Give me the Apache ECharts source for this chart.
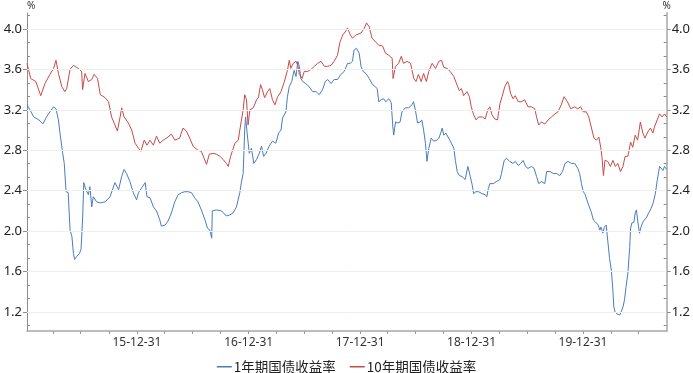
<!DOCTYPE html>
<html><head><meta charset="utf-8">
<script src="https://cdn.jsdelivr.net/npm/echarts@6/dist/echarts.min.js"></script>
<style>html,body{margin:0;padding:0;background:#fff}#c{width:693px;height:373px}</style>
</head><body><div id="c"></div>
<script>
const seriesNames = ['1年期国债收益率', '10年期国债收益率'];

const dates1y = [
'2015-01-05','2015-01-11','2015-01-27','2015-02-13','2015-02-26','2015-03-10','2015-03-21','2015-04-02','2015-04-10','2015-04-18',
'2015-04-23','2015-05-02','2015-05-07','2015-05-13','2015-05-20','2015-05-26','2015-06-01','2015-06-06','2015-06-10','2015-06-17',
'2015-06-26','2015-07-01','2015-07-06','2015-07-10','2015-07-17','2015-07-25','2015-07-30','2015-08-05','2015-08-10','2015-08-21',
'2015-09-02','2015-09-18','2015-10-04','2015-10-20','2015-11-01','2015-11-11','2015-11-19','2015-11-27','2015-12-08','2015-12-19',
'2015-12-30','2016-01-05','2016-01-16','2016-01-27','2016-02-02','2016-02-12','2016-02-23','2016-03-04','2016-03-15','2016-03-20',
'2016-04-01','2016-04-11','2016-04-22','2016-05-03','2016-05-14','2016-05-25','2016-06-05','2016-06-16','2016-06-27','2016-07-07',
'2016-07-18','2016-07-29','2016-08-10','2016-08-18','2016-08-26','2016-09-01','2016-09-03','2016-09-17','2016-10-03','2016-10-19',
'2016-10-30','2016-11-10','2016-11-21',
'2016-12-02','2016-12-07','2016-12-13','2016-12-18','2016-12-21','2016-12-26','2017-01-02','2017-01-09','2017-01-17','2017-01-26',
'2017-02-04','2017-02-11','2017-02-18','2017-02-26','2017-03-08','2017-03-19','2017-03-30','2017-04-08','2017-04-16','2017-04-21',
'2017-05-02','2017-05-07','2017-05-13','2017-05-21','2017-05-29','2017-06-04','2017-06-10','2017-06-15','2017-06-20','2017-06-26',
'2017-07-06','2017-07-17','2017-07-28','2017-08-09','2017-08-19','2017-08-30','2017-09-08','2017-09-16','2017-09-27','2017-10-07',
'2017-10-18','2017-10-29','2017-11-09','2017-11-14','2017-11-20','2017-11-29','2017-12-06','2017-12-11','2017-12-19','2017-12-28',
'2018-01-03','2018-01-10','2018-01-19','2018-01-30','2018-02-10','2018-02-18','2018-02-25','2018-03-02','2018-03-10','2018-03-18',
'2018-03-25','2018-04-04','2018-04-12','2018-04-17','2018-04-20','2018-04-26','2018-05-04','2018-05-11','2018-05-17','2018-05-28',
'2018-06-08','2018-06-19','2018-06-24','2018-06-30','2018-07-07','2018-07-16','2018-07-21','2018-07-27','2018-08-02','2018-08-07',
'2018-08-13','2018-08-21','2018-08-29','2018-09-09','2018-09-15',
'2018-09-21','2018-09-26','2018-10-01','2018-10-08','2018-10-17','2018-10-26','2018-11-03','2018-11-08','2018-11-14','2018-11-21',
'2018-11-30','2018-12-10','2018-12-19','2018-12-24','2018-12-27','2019-01-02','2019-01-07','2019-01-13','2019-01-23','2019-02-04',
'2019-02-14','2019-02-19','2019-02-24','2019-03-01','2019-03-12','2019-03-22','2019-04-03','2019-04-08','2019-04-17','2019-04-25',
'2019-05-05','2019-05-16','2019-05-23','2019-06-02','2019-06-10','2019-06-18','2019-06-26','2019-07-04','2019-07-15','2019-07-24',
'2019-08-01','2019-08-08','2019-08-17','2019-08-28','2019-09-03','2019-09-14','2019-09-25','2019-10-05','2019-10-16','2019-10-25',
'2019-11-02','2019-11-12','2019-11-23','2019-12-04','2019-12-14','2019-12-20','2019-12-26','2020-01-01',
'2020-01-06','2020-01-17','2020-01-27','2020-02-03','2020-02-10','2020-02-19','2020-02-24','2020-02-28','2020-03-05','2020-03-10',
'2020-03-16','2020-03-21','2020-03-27','2020-04-02','2020-04-07','2020-04-10','2020-04-14','2020-04-21','2020-04-29','2020-05-04',
'2020-05-10','2020-05-15','2020-05-20','2020-05-26','2020-06-01','2020-06-04','2020-06-08','2020-06-15','2020-06-19','2020-06-23',
'2020-06-27','2020-07-03','2020-07-08','2020-07-14','2020-07-19','2020-07-25','2020-08-02','2020-08-08','2020-08-16','2020-08-24',
'2020-08-30','2020-09-07','2020-09-12','2020-09-18','2020-09-23','2020-09-30'
];
const values1y = [
3.25,3.22,3.13,3.10,3.06,3.13,3.18,3.23,3.21,3.10,
2.97,2.77,2.67,2.39,2.38,2.01,1.95,1.78,1.72,1.75,
1.78,1.82,2.11,2.48,2.41,2.36,2.44,2.24,2.34,2.29,
2.28,2.29,2.34,2.48,2.41,2.54,2.61,2.57,2.49,2.38,
2.31,2.38,2.43,2.48,2.34,2.33,2.24,2.20,2.11,2.05,
2.06,2.10,2.18,2.29,2.36,2.38,2.39,2.39,2.38,2.33,
2.29,2.21,2.11,2.03,2.01,1.93,2.20,2.21,2.20,2.15,
2.16,2.18,2.24,
2.38,2.48,2.57,3.00,3.13,2.97,2.77,2.82,2.67,2.71,
2.77,2.84,2.74,2.77,2.84,2.89,2.87,2.97,3.00,3.12,
3.18,3.33,3.43,3.48,3.59,3.53,3.68,3.63,3.51,3.48,
3.46,3.43,3.38,3.38,3.35,3.40,3.48,3.50,3.46,3.50,
3.50,3.55,3.58,3.59,3.66,3.66,3.68,3.79,3.81,3.76,
3.63,3.58,3.56,3.51,3.45,3.43,3.41,3.28,3.30,3.31,
3.28,3.31,3.27,3.04,2.95,3.08,3.07,3.08,3.18,3.22,
3.22,3.25,3.28,3.20,3.07,3.08,3.10,3.00,2.87,2.69,
2.82,2.92,2.89,2.90,2.92,
2.97,3.02,2.95,2.97,2.92,2.87,2.82,2.70,2.59,2.55,
2.54,2.51,2.64,2.64,2.54,2.46,2.37,2.39,2.39,2.37,
2.36,2.34,2.42,2.47,2.47,2.49,2.51,2.57,2.70,2.72,
2.69,2.67,2.69,2.65,2.67,2.70,2.64,2.62,2.64,2.62,
2.54,2.47,2.49,2.47,2.59,2.59,2.57,2.57,2.55,2.59,
2.67,2.69,2.67,2.67,2.62,2.57,2.47,2.39,
2.37,2.27,2.19,2.11,2.09,2.06,2.01,2.04,1.98,2.04,
2.06,1.91,1.73,1.61,1.41,1.25,1.20,1.18,1.17,1.20,
1.25,1.32,1.45,1.58,1.84,2.03,2.08,2.09,2.18,2.21,
2.11,1.98,2.04,2.09,2.11,2.13,2.18,2.21,2.27,2.37,
2.50,2.64,2.64,2.60,2.64,2.61
];

const dates10y = [
'2015-01-05','2015-01-17','2015-02-03','2015-02-19','2015-02-25','2015-03-05','2015-03-21','2015-04-02','2015-04-10','2015-04-18',
'2015-04-29','2015-05-09','2015-05-15','2015-05-26','2015-06-06','2015-06-22','2015-07-03','2015-07-06','2015-07-14','2015-07-25',
'2015-08-05','2015-08-13','2015-08-24','2015-09-02','2015-09-18','2015-09-29','2015-10-09','2015-10-20','2015-10-28','2015-11-06',
'2015-11-11','2015-11-19','2015-12-03','2015-12-14','2015-12-25','2016-01-05','2016-01-13','2016-01-24','2016-02-02','2016-02-12',
'2016-02-23','2016-03-04','2016-03-15','2016-03-26','2016-04-06','2016-04-22','2016-05-03','2016-05-19','2016-05-30','2016-06-10',
'2016-06-21','2016-07-02','2016-07-18','2016-07-29','2016-08-07','2016-08-15','2016-08-24','2016-09-06','2016-09-17','2016-09-28',
'2016-10-08','2016-10-19','2016-10-25','2016-11-02','2016-11-16','2016-11-27',
'2016-12-02','2016-12-13','2016-12-18','2016-12-24','2016-12-29','2017-01-04','2017-01-15','2017-01-26','2017-02-01','2017-02-08',
'2017-02-14','2017-02-21','2017-03-03','2017-03-10','2017-03-19','2017-03-27','2017-04-05','2017-04-16','2017-04-27','2017-05-07',
'2017-05-13','2017-05-18','2017-05-26','2017-06-04','2017-06-10','2017-06-15','2017-06-24','2017-07-01','2017-07-12','2017-07-23',
'2017-08-03','2017-08-14','2017-08-25','2017-09-05','2017-09-16','2017-09-27','2017-10-07','2017-10-18','2017-10-26','2017-11-04',
'2017-11-12','2017-11-20','2017-11-29','2017-12-06','2017-12-17','2018-01-03','2018-01-14','2018-01-21','2018-01-30','2018-02-08',
'2018-02-20','2018-03-02','2018-03-15','2018-03-24','2018-04-04','2018-04-15','2018-04-18','2018-04-26','2018-05-06','2018-05-15',
'2018-05-22','2018-06-03','2018-06-14','2018-06-25','2018-07-02','2018-07-10','2018-07-19','2018-07-27','2018-08-05','2018-08-13',
'2018-08-24','2018-09-04','2018-09-15',
'2018-09-24','2018-10-01','2018-10-12','2018-10-22','2018-11-03','2018-11-14','2018-11-21','2018-11-28','2018-12-05','2018-12-16',
'2018-12-24','2018-12-30','2019-01-07','2019-01-15','2019-01-23','2019-02-04','2019-02-14','2019-02-22','2019-03-01','2019-03-08',
'2019-03-17','2019-03-26','2019-04-03','2019-04-10','2019-04-19','2019-04-28','2019-05-02','2019-05-08','2019-05-16','2019-05-23',
'2019-06-02','2019-06-12','2019-06-23','2019-07-04','2019-07-15','2019-07-26','2019-08-01','2019-08-08','2019-08-17','2019-08-28',
'2019-09-08','2019-09-19','2019-09-30','2019-10-10','2019-10-21','2019-10-30','2019-11-10','2019-11-21','2019-12-04','2019-12-14',
'2019-12-23','2020-01-01','2020-01-11','2020-01-19','2020-01-27','2020-02-05','2020-02-13','2020-02-21','2020-02-27','2020-03-02',
'2020-03-07','2020-03-12','2020-03-21','2020-03-30','2020-04-07','2020-04-15','2020-04-23','2020-05-02','2020-05-10','2020-05-17',
'2020-05-26','2020-06-04','2020-06-11','2020-06-19','2020-06-27','2020-07-06','2020-07-14','2020-07-21','2020-07-30','2020-08-08',
'2020-08-16','2020-08-21','2020-08-30','2020-09-07','2020-09-15','2020-09-23','2020-09-30'
];
const values10y = [
3.66,3.51,3.48,3.34,3.33,3.46,3.55,3.61,3.69,3.56,
3.43,3.38,3.41,3.60,3.64,3.61,3.58,3.40,3.56,3.48,
3.50,3.55,3.51,3.35,3.32,3.28,3.13,3.05,2.99,3.13,
3.22,3.13,3.07,3.00,2.87,2.82,2.79,2.90,2.85,2.90,
2.85,2.94,2.87,2.90,2.92,2.96,2.90,2.92,3.02,2.99,
2.92,2.84,2.80,2.79,2.72,2.66,2.76,2.77,2.76,2.74,
2.71,2.67,2.64,2.74,2.87,2.90,
3.00,3.20,3.35,3.30,3.05,3.20,3.22,3.30,3.32,3.45,
3.40,3.32,3.38,3.41,3.30,3.25,3.33,3.38,3.48,3.59,
3.69,3.61,3.66,3.68,3.64,3.55,3.51,3.58,3.58,3.60,
3.63,3.66,3.68,3.63,3.63,3.64,3.68,3.74,3.87,3.94,
3.97,4.01,3.94,3.91,3.94,3.96,4.01,4.06,4.02,3.91,
3.87,3.84,3.83,3.76,3.74,3.71,3.51,3.63,3.66,3.73,
3.66,3.68,3.66,3.51,3.48,3.55,3.48,3.56,3.48,3.58,
3.66,3.61,3.68,
3.69,3.62,3.61,3.58,3.53,3.44,3.39,3.41,3.34,3.38,
3.33,3.23,3.15,3.10,3.13,3.13,3.11,3.20,3.23,3.15,
3.11,3.10,3.26,3.33,3.43,3.48,3.45,3.36,3.31,3.34,
3.28,3.28,3.30,3.23,3.23,3.21,3.13,3.05,3.08,3.06,
3.10,3.13,3.16,3.18,3.25,3.33,3.28,3.21,3.23,3.21,
3.23,3.18,3.18,3.13,3.03,2.92,2.90,2.93,2.83,2.74,
2.55,2.70,2.69,2.64,2.70,2.64,2.67,2.59,2.64,2.74,
2.74,2.88,2.83,2.95,2.90,3.08,2.97,2.92,2.98,3.02,
2.97,3.03,3.10,3.16,3.13,3.16,3.13
];

const yLabelValues = [1.2, 1.6, 2.0, 2.4, 2.8, 3.2, 3.6, 4.0];
const yMinorTickValues = [1.0667,1.3333,1.4667,1.7333,1.8667,2.1333,2.2667,2.5333,2.6667,2.9333,3.0667,3.3333,3.4667,3.7333,3.8667,4.1333];
const xLabelDates = ['2015-12-31','2016-12-31','2017-12-31','2018-12-31','2019-12-31'];
const xTickDates = ['2015-03-31','2015-06-30','2015-09-30','2015-12-31','2016-03-31','2016-06-30','2016-09-30','2016-12-31',
  '2017-03-31','2017-06-30','2017-09-30','2017-12-31','2018-03-31','2018-06-30','2018-09-30','2018-12-31',
  '2019-03-31','2019-06-30','2019-09-30','2019-12-31','2020-03-31','2020-06-30'];

function ts(s) { const p = s.split('-').map(Number); return new Date(p[0], p[1] - 1, p[2]).getTime(); }
function pad(n) { return (n < 10 ? '0' : '') + n; }
function fmtDate(v) { const d = new Date(v); return pad(d.getFullYear() % 100) + '-' + pad(d.getMonth() + 1) + '-' + pad(d.getDate()); }

const Y_MIN = 1.012, Y_MAX = 4.158;
const font = '"Noto Sans", "Noto Sans CJK SC", sans-serif';

function yAxisBase(pos, main) {
  return {
    type: 'value', position: pos, min: Y_MIN, max: Y_MAX, offset: 0,
    axisLine: { show: main, lineStyle: { color: pos === 'left' ? '#8c8c8c' : '#bdbdbd', width: pos === 'left' ? 1 : 2 } },
    axisTick: main ? { show: true, inside: false, length: 4, customValues: yLabelValues, lineStyle: { color: '#8c8c8c' } }
                   : { show: true, inside: true, length: 3, customValues: yMinorTickValues, lineStyle: { color: '#8c8c8c' } },
    axisLabel: main ? { show: true, customValues: yLabelValues, formatter: v => v.toFixed(1), color: '#222', fontSize: 13, fontFamily: font, margin: 5 }
                    : { show: false },
    splitLine: { show: false },
    name: main ? '%' : '',
    nameLocation: 'end', nameGap: 2,
    nameTextStyle: { color: '#333', fontSize: 10, fontFamily: font, align: pos === 'left' ? 'left' : 'center', verticalAlign: 'bottom', padding: 0 }
  };
}

const chart = echarts.init(document.getElementById('c'), null, { renderer: 'canvas' });
chart.setOption({
  animation: false,
  backgroundColor: '#fff',
  grid: { left: 27, right: 25, top: 13, bottom: 42, containLabel: false },
  legend: {
    data: seriesNames, left: 'center', top: 355, itemWidth: 15, itemHeight: 1.5, itemGap: 14, icon: 'rect',
    textStyle: { fontSize: 13.5, color: '#222', fontFamily: '"Noto Sans CJK SC", sans-serif', padding: [0, 0, 0, -3] }
  },
  xAxis: {
    type: 'value', min: ts('2015-01-05'), max: ts('2020-09-30'),
    axisLine: { lineStyle: { color: '#a8a8a8', width: 1.5 } },
    axisTick: { show: true, length: 3, customValues: xTickDates.map(ts), lineStyle: { color: '#999' } },
    axisLabel: { customValues: xLabelDates.map(ts), formatter: v => fmtDate(v), color: '#333', fontSize: 12, fontFamily: font, margin: 6 },
    splitLine: { show: false }
  },
  yAxis: [yAxisBase('left', true), yAxisBase('right', true), yAxisBase('left', false), yAxisBase('right', false)],
  series: [
    {
      name: 'grid', type: 'line', data: [], z: 1, silent: true,
      markLine: {
        silent: true, symbol: 'none', label: { show: false },
        lineStyle: { color: '#efefef', width: 1, type: 'solid' },
        data: yLabelValues.map(v => ({ yAxis: v }))
      }
    },
    {
      name: seriesNames[0], type: 'line', z: 3, showSymbol: false, symbol: 'none',
      lineStyle: { color: '#4a7cc1', width: 1 }, itemStyle: { color: '#4a7cc1' },
      data: dates1y.map((d, i) => [ts(d), values1y[i]])
    },
    {
      name: seriesNames[1], type: 'line', z: 3, showSymbol: false, symbol: 'none',
      lineStyle: { color: '#c94a4a', width: 1 }, itemStyle: { color: '#c94a4a' },
      data: dates10y.map((d, i) => [ts(d), values10y[i]])
    }
  ]
});
</script></body></html>
